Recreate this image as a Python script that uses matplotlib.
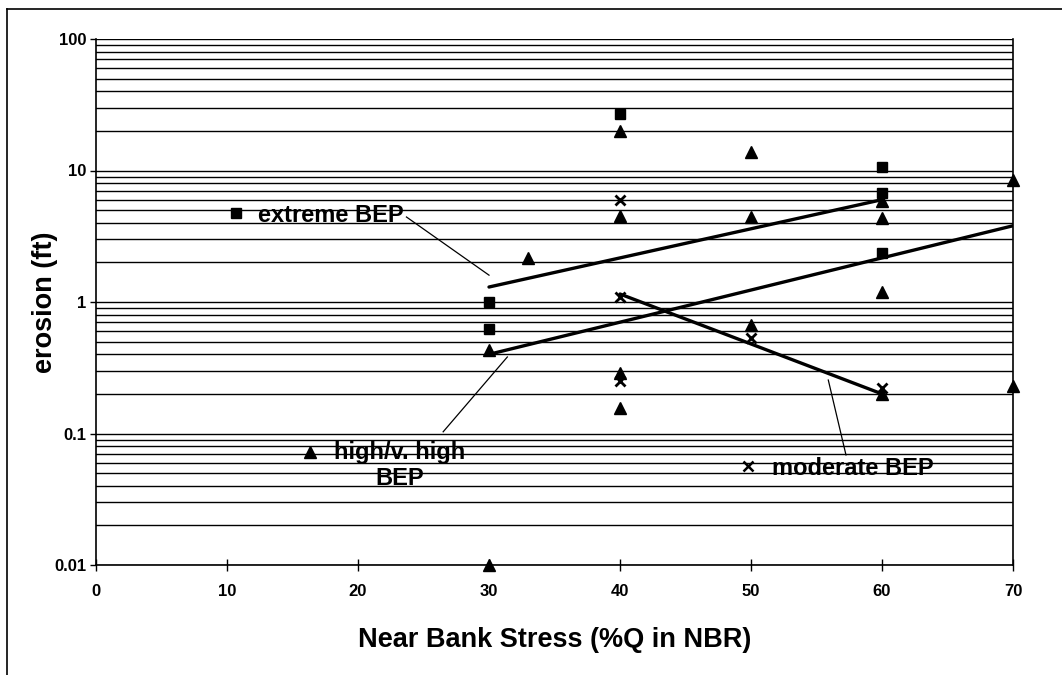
"""
Erosion vs near bank stress, scatter with trend lines (log scale).
"""

import matplotlib
matplotlib.use('Agg')
import matplotlib.pyplot as plt
from matplotlib.lines import Line2D
from matplotlib.ticker import FixedLocator, LogLocator, NullFormatter

plt.rcParams['font.family'] = ['Liberation Sans', 'DejaVu Sans']

# extreme BEP (squares)
extreme_x = [30, 30, 40, 60, 60, 60]
extreme_y = [1.0, 0.62, 27, 10.6, 6.8, 2.35]

# high / very high BEP (triangles)
high_x = [30, 30, 33, 40, 40, 40, 40, 50, 50, 50, 60, 60, 60, 60, 70, 70]
high_y = [0.43, 0.01, 2.15, 20, 4.5, 0.29, 0.156, 13.8, 4.4, 0.67,
          5.9, 4.35, 1.2, 0.2, 8.5, 0.228]

# moderate BEP (crosses)
moderate_x = [40, 40, 40, 50, 60]
moderate_y = [6.0, 1.1, 0.25, 0.53, 0.22]

# trend lines (endpoints)
extreme_trend_x = [30, 60]
extreme_trend_y = [1.3, 6.0]
high_trend_x = [30, 70]
high_trend_y = [0.40, 3.8]
moderate_trend_x = [40, 60]
moderate_trend_y = [1.15, 0.20]

x_ticks = [0, 10, 20, 30, 40, 50, 60, 70]
y_ticks = [0.01, 0.1, 1, 10, 100]
y_tick_labels = ['0.01', '0.1', '1', '10', '100']

fig = plt.figure(figsize=(10.62, 6.75), dpi=100)
ax = fig.add_axes([96 / 1062, 1 - 565 / 675, 917 / 1062, 526 / 675])

ax.set_yscale('log')
ax.set_xlim(0, 70)
ax.set_ylim(0.01, 100)

# horizontal grid at every 1..9 step
ax.yaxis.set_major_locator(FixedLocator(y_ticks))
ax.yaxis.set_minor_locator(LogLocator(base=10, subs=range(2, 10)))
ax.yaxis.set_minor_formatter(NullFormatter())
ax.set_yticklabels(y_tick_labels)
ax.grid(True, which='both', axis='y', color='black', lw=1.0)
ax.set_axisbelow(True)

ax.set_xticks(x_ticks)
ax.tick_params(axis='x', direction='inout', length=8, width=1, pad=10,
               labelsize=12)
ax.tick_params(axis='y', which='major', direction='out', length=4, width=1,
               pad=3, labelsize=12)
ax.tick_params(axis='y', which='minor', length=0)
for lbl in ax.get_xticklabels() + ax.get_yticklabels():
    lbl.set_fontweight('bold')

for side in ('left', 'bottom', 'right'):
    ax.spines[side].set_linewidth(1.2)
ax.spines['top'].set_visible(False)

# trend lines
for tx, ty in ((extreme_trend_x, extreme_trend_y),
               (high_trend_x, high_trend_y),
               (moderate_trend_x, moderate_trend_y)):
    ax.plot(tx, ty, color='black', lw=2.4, solid_capstyle='round', zorder=3)

# data points
ax.plot(extreme_x, extreme_y, ls='none', marker='s', ms=7.5, color='black',
        clip_on=False, zorder=4)
ax.plot(high_x, high_y, ls='none', marker='^', ms=9, color='black',
        clip_on=False, zorder=4)
ax.plot(moderate_x, moderate_y, ls='none', marker='x', ms=7.5, mew=2,
        color='black', clip_on=False, zorder=4)

# series labels with leader lines
ax.plot([10.7], [4.75], ls='none', marker='s', ms=7, color='black')
ax.text(12.4, 4.75, 'extreme BEP', fontsize=17, fontweight='bold',
        ha='left', va='center_baseline')
ax.plot([23.7, 30.0], [4.43, 1.60], color='black', lw=0.9)

ax.plot([16.3], [0.0723], ls='none', marker='^', ms=8, color='black')
ax.text(23.2, 0.057, 'high/v. high\nBEP', fontsize=17, fontweight='bold',
        ha='center', va='center', linespacing=1.15)
ax.plot([26.5, 31.4], [0.103, 0.382], color='black', lw=0.9)

ax.plot([49.8], [0.0566], ls='none', marker='x', ms=7, mew=1.8,
        color='black')
ax.text(51.6, 0.0566, 'moderate BEP', fontsize=17, fontweight='bold',
        ha='left', va='center_baseline')
ax.plot([57.25, 55.9], [0.0687, 0.255], color='black', lw=0.9)

ax.set_xlabel('Near Bank Stress (%Q in NBR)', fontsize=19.5,
              fontweight='bold', labelpad=20)
ax.set_ylabel('erosion (ft)', fontsize=19.5, fontweight='bold', labelpad=-3)

# outer chart frame (left and top edges visible in the scan)
fig.add_artist(Line2D([7 / 1062, 7 / 1062], [0, 1 - 9 / 675],
                      color='black', lw=1.2))
fig.add_artist(Line2D([7 / 1062, 1], [1 - 9 / 675, 1 - 9 / 675],
                      color='black', lw=1.2))

fig.savefig('out.png', dpi=100)
